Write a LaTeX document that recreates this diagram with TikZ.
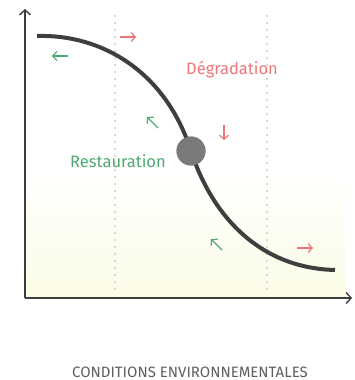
\documentclass[tikz,border=0pt]{standalone}
\usepackage{fontspec}
\setmainfont{Fira Sans}
\usetikzlibrary{arrows.meta,positioning}

\definecolor{degred}{RGB}{238,118,118}
\definecolor{resgreen}{RGB}{78,168,112}
\definecolor{curvegray}{RGB}{62,62,62}
\definecolor{dotgray}{RGB}{122,122,122}
\definecolor{labelgray}{RGB}{95,95,95}
\definecolor{paleyellow}{RGB}{251,251,230}

\begin{document}
\begin{tikzpicture}[
  x=1pt, y=-1pt,
  axis/.style={draw=curvegray, line width=1.6pt, -{Straight Barb[length=5pt,width=11pt,line width=1.4pt]}},
  guide/.style={draw=black!15, line width=1.3pt, dash pattern=on 2pt off 5pt},
  small/.style={line width=1.2pt, -{Straight Barb[length=4pt,width=9pt]}},
  deg/.style={small, degred},
  res/.style={small, resgreen},
  lab/.style={font=\fontsize{16.5}{19}\selectfont, inner sep=0pt}
]
\useasboundingbox (0,0) rectangle (354,380);

% background
\shade[top color=white, bottom color=paleyellow] (25,170) rectangle (345,297);

% guides
\draw[guide] (115,15) -- (115,292);
\draw[guide] (267,15) -- (267,292);

% axes
\coordinate (origin) at (25,298);
\coordinate (ytop) at (25,9);
\coordinate (xend) at (352,298);
\draw[axis] (origin) -- (ytop);
\draw[axis] (origin) -- (xend);

% curve
\coordinate (start) at (37,36);
\coordinate (stop) at (335,270);
\node[circle, fill=dotgray, minimum size=29pt, inner sep=0pt] (eq) at (191,151) {};
\draw[curvegray, line width=4pt] (start) .. controls (100,34) and (165,70) .. (eq.center)
  .. controls (210,210) and (255,268) .. (stop);
\node[circle, fill=dotgray, minimum size=29pt, inner sep=0pt] at (eq) {};

% small arrows
\draw[deg] (120,37) -- (136,37);
\draw[deg] (224,125) -- (224,140);
\draw[deg] (297,248) -- (313,248);
\draw[res] (68,56) -- (52,56);
\draw[res] (158,128) -- (147,117);
\draw[res] (222,250) -- (211,239);

% labels
\node[lab, text=degred] (degr) at (232,70) {Dégradation};
\node[lab, text=resgreen] (rest) at (118,161) {Restauration};
\node[lab, text=labelgray, font=\fontsize{15}{17}\selectfont] (xlab) at (190,372) {CONDITIONS ENVIRONNEMENTALES};
\end{tikzpicture}
\end{document}
